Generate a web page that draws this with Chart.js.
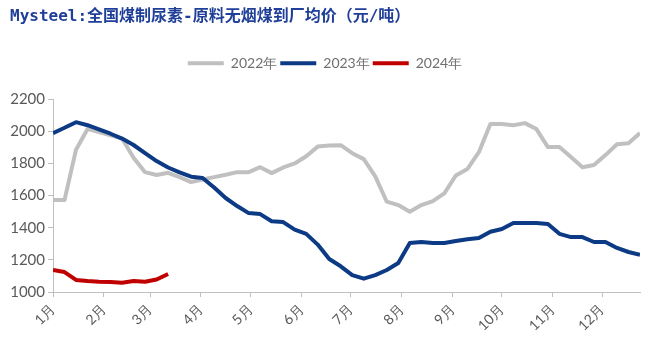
<!DOCTYPE html>
<html>
<head>
<meta charset="utf-8">
<script src="https://cdn.jsdelivr.net/npm/chart.js@4.4.1/dist/chart.umd.min.js"></script>
<style>
  html, body { margin: 0; padding: 0; background: #fff; }
  #wrap { width: 660px; height: 352px; }
</style>
</head>
<body>
<div id="wrap"><canvas id="chart-line"></canvas></div>
<script>
var titleText = 'Mysteel:全国煤制尿素-原料无烟煤到厂均价（元/吨）';
var seriesNames = ['2022年', '2023年', '2024年'];
var monthLabels = ['1月', '2月', '3月', '4月', '5月', '6月', '7月', '8月', '9月', '10月', '11月', '12月'];
// first day of each month, counted in days from 1 Jan
var monthStartDays = [0, 31, 59, 90, 120, 151, 181, 212, 243, 273, 304, 334];
var yTicks = [1000, 1200, 1400, 1600, 1800, 2000, 2200];

// weekly prices
var price2022 = [1572, 1572, 1885, 2015, 1995, 1975, 1955, 1835, 1746, 1728,
                 1742, 1715, 1684, 1700, 1715, 1730, 1746, 1746, 1777, 1740,
                 1775, 1800, 1845, 1905, 1912, 1914, 1864, 1827, 1720, 1562,
                 1541, 1500, 1541, 1566, 1614, 1725, 1765, 1870, 2045, 2045,
                 2038, 2051, 2014, 1902, 1902, 1840, 1777, 1790, 1852, 1920,
                 1926, 1989];
var price2023 = [1989, 2022, 2057, 2038, 2012, 1985, 1955, 1915, 1865, 1815,
                 1775, 1745, 1718, 1710, 1650, 1585, 1535, 1491, 1485, 1440,
                 1435, 1388, 1362, 1295, 1205, 1160, 1105, 1083, 1105, 1137,
                 1180, 1305, 1311, 1305, 1305, 1317, 1328, 1336, 1375, 1392,
                 1429, 1429, 1429, 1423, 1362, 1342, 1342, 1311, 1311, 1274,
                 1249, 1232];
var price2024 = [1137, 1124, 1075, 1068, 1064, 1062, 1058, 1068, 1064, 1078, 1112];

var seriesColors = ['#c0c0c0', '#0d3a85', '#c00000'];
var axisColor = '#bfbfbf';
var textColor = '#595959';

function toPoints(values) {
    return values.map(function (v, i) { return { x: i, y: v }; });
}

var monthWeeks = monthStartDays.map(function (d) { return d / 7; });

var ctx = document.getElementById('chart-line');
var myLineChart = new Chart(ctx, {
    type: 'line',
    data: {
        datasets: [
            { label: seriesNames[0], data: toPoints(price2022), borderColor: seriesColors[0], order: 3 },
            { label: seriesNames[1], data: toPoints(price2023), borderColor: seriesColors[1], order: 2 },
            { label: seriesNames[2], data: toPoints(price2024), borderColor: seriesColors[2], order: 1 }
        ]
    },
    options: {
        responsive: true,
        maintainAspectRatio: false,
        animation: false,
        devicePixelRatio: 1,
        layout: { padding: { left: 10, right: 20, top: 0, bottom: 0 } },
        elements: {
            line: { borderWidth: 4, tension: 0, borderJoinStyle: 'round', borderCapStyle: 'butt', fill: false },
            point: { radius: 0, hoverRadius: 0 }
        },
        plugins: {
            tooltip: { enabled: false },
            title: {
                display: true,
                text: titleText,
                align: 'start',
                color: '#1f3f98',
                font: { family: "'DejaVu Sans Mono', 'Noto Sans CJK SC'", size: 16, weight: 'bold', lineHeight: 1.2 },
                padding: { top: 7, bottom: 27 }
            },
            legend: {
                display: true,
                position: 'top',
                labels: {
                    color: '#6f6f6f',
                    font: { family: 'Lato', size: 14 },
                    boxWidth: 36,
                    boxHeight: 4,
                    padding: 3,
                    generateLabels: function (chart) {
                        return chart.data.datasets.map(function (ds, i) {
                            return {
                                text: ds.label,
                                fillStyle: ds.borderColor,
                                strokeStyle: ds.borderColor,
                                lineWidth: 0,
                                hidden: false,
                                datasetIndex: i,
                                fontColor: '#6f6f6f'
                            };
                        });
                    }
                }
            },
            // empty subtitle used as spacing between legend and plot
            subtitle: {
                display: true,
                text: '',
                weight: 500,
                font: { size: 1, lineHeight: 1 },
                padding: { top: 18, bottom: 0 }
            }
        },
        scales: {
            x: {
                type: 'linear',
                min: 0,
                max: price2022.length - 1,
                afterBuildTicks: function (scale) {
                    scale.ticks = monthWeeks.map(function (w) { return { value: w }; });
                },
                afterFit: function (scale) { scale.height = 60; },
                ticks: {
                    autoSkip: false,
                    maxRotation: 45,
                    minRotation: 45,
                    color: textColor,
                    font: { family: 'Lato', size: 14 },
                    padding: 4,
                    callback: function (v, i) { return monthLabels[i]; }
                },
                grid: { drawOnChartArea: false, drawTicks: true, tickLength: 5, color: axisColor },
                border: { display: true, color: axisColor, width: 1 }
            },
            y: {
                min: 1000,
                max: 2200,
                afterBuildTicks: function (scale) {
                    scale.ticks = yTicks.map(function (v) { return { value: v }; });
                },
                afterFit: function (scale) { scale.width = 43; },
                ticks: {
                    color: textColor,
                    font: { family: 'Lato', size: 15 },
                    padding: 3,
                    callback: function (v) { return String(v); }
                },
                grid: { drawOnChartArea: false, drawTicks: true, tickLength: 5, color: axisColor },
                border: { display: true, color: axisColor, width: 1 }
            }
        }
    }
});
</script>
</body>
</html>
